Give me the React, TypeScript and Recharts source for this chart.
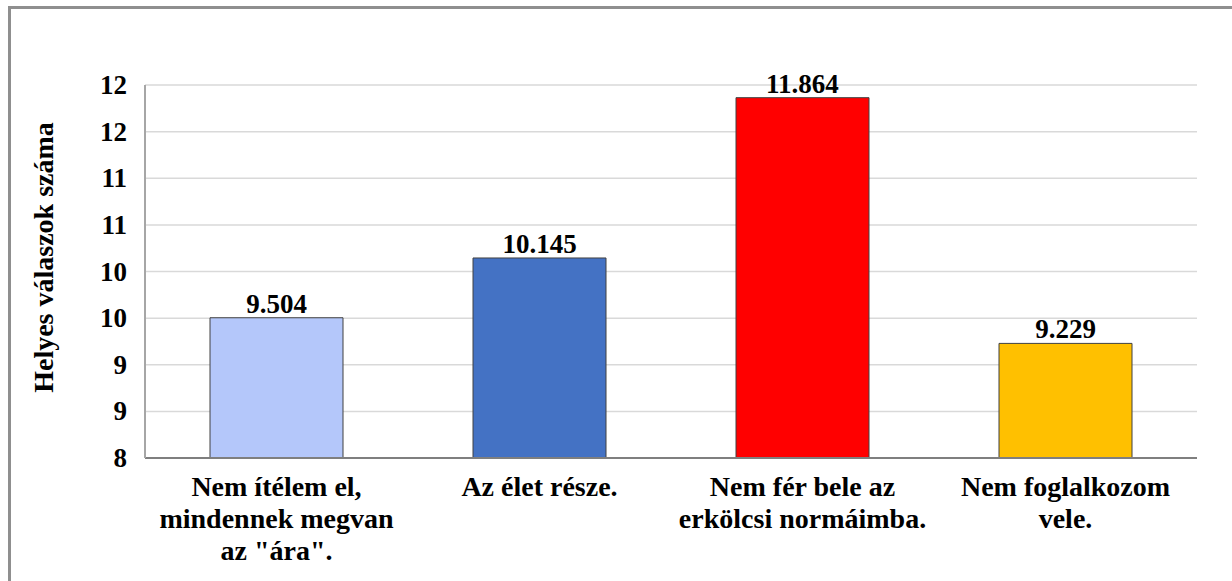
import React from 'react';
import {
  BarChart,
  Bar,
  XAxis,
  YAxis,
  CartesianGrid,
  Cell,
  LabelList,
  Label
} from 'recharts';

const categories = [
  'Nem ítélem el,\nmindennek megvan\naz "ára".',
  'Az élet része.',
  'Nem fér bele az\nerkölcsi normáimba.',
  'Nem foglalkozom\nvele.'
];
const values = [9.504, 10.145, 11.864, 9.229];
const barColors = ['#B4C7FA', '#4472C4', '#FF0000', '#FFC000'];
const yTicks = [8, 8.5, 9, 9.5, 10, 10.5, 11, 11.5, 12];
const yTitle = 'Helyes válaszok száma';

const FONT = 'Liberation Serif';

const data = categories.map((name, i) => ({ name, value: values[i] }));

const CategoryTick = (props: any) => {
  const { x, y, payload } = props;
  const lines = String(payload.value).split('\n');
  return (
    <g transform={`translate(${x},${y})`}>
      <text textAnchor="middle" fontFamily={FONT} fontWeight="bold" fontSize={28} fill="#000">
        {lines.map((line, i) => (
          <tspan key={i} x={0} dy={i === 0 ? 30 : 32}>
            {line}
          </tspan>
        ))}
      </text>
    </g>
  );
};

const YTick = (props: any) => {
  const { x, y, payload } = props;
  return (
    <text
      x={x}
      y={y}
      textAnchor="end"
      dominantBaseline="central"
      fontFamily={FONT}
      fontWeight="bold"
      fontSize={27}
      fill="#000"
    >
      {Math.round(payload.value)}
    </text>
  );
};

const YTitle = (props: any) => {
  const { viewBox } = props;
  const cx = 43;
  const cy = viewBox.y + viewBox.height / 2 - 14;
  return (
    <text
      x={cx}
      y={cy}
      transform={`rotate(-90, ${cx}, ${cy})`}
      textAnchor="middle"
      dominantBaseline="central"
      fontFamily={FONT}
      fontWeight="bold"
      fontSize={28}
      fill="#000"
    >
      {yTitle}
    </text>
  );
};

const BarValue = (props: any) => {
  const { x, y, width, value } = props;
  return (
    <text
      x={x + width / 2}
      y={y - 5}
      textAnchor="middle"
      fontFamily={FONT}
      fontWeight="bold"
      fontSize={27}
      fill="#000"
    >
      {Number(value).toFixed(3)}
    </text>
  );
};

const App = () => {
  return (
    <div
      style={{
        position: 'fixed',
        left: 0,
        top: 0,
        width: 1232,
        height: 581,
        background: '#fff',
        overflow: 'hidden'
      }}
    >
      <div
        style={{
          position: 'absolute',
          left: 8,
          top: 6,
          width: 1400,
          height: 800,
          borderTop: '3px solid #8f8f8f',
          borderLeft: '3px solid #8f8f8f'
        }}
      />
      <div style={{ position: 'absolute', left: 0, top: 0 }}>
        <BarChart
          width={1232}
          height={581}
          data={data}
          margin={{ top: 85, right: 35, bottom: 0, left: 0 }}
          barSize={133}
        >
          <CartesianGrid vertical={false} stroke="#d9d9d9" strokeWidth={1.5} />
          <XAxis
            dataKey="name"
            height={123}
            tickLine={false}
            axisLine={{ stroke: '#7f7f7f', strokeWidth: 2 }}
            tick={<CategoryTick />}
            interval={0}
          />
          <YAxis
            width={145}
            domain={[8, 12]}
            ticks={yTicks}
            tickLine={false}
            axisLine={{ stroke: '#a6a6a6', strokeWidth: 2 }}
            tick={<YTick />}
            tickMargin={12}
            allowDataOverflow
          >
            <Label content={<YTitle />} />
          </YAxis>
          <Bar dataKey="value" isAnimationActive={false} stroke="#404040" strokeWidth={1}>
            {data.map((entry, index) => (
              <Cell key={`cell-${index}`} fill={barColors[index]} />
            ))}
            <LabelList dataKey="value" content={<BarValue />} />
          </Bar>
        </BarChart>
      </div>
    </div>
  );
};

export default App;
